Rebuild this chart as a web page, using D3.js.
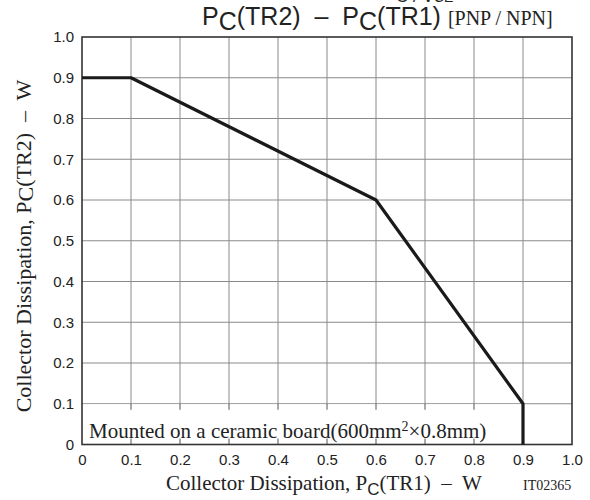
<!DOCTYPE html>
<html>
<head>
<meta charset="utf-8">
<script src="https://cdn.jsdelivr.net/npm/d3@7"></script>
<style>
  body { margin: 0; background: #fff; }
  text { white-space: pre; }
  .tick text { font-family: "Liberation Sans", Arial, sans-serif; font-size: 15px; fill: #222; }
  .serif { font-family: "Liberation Serif", "Times New Roman", serif; fill: #222; }
  .sans { font-family: "Liberation Sans", Arial, sans-serif; fill: #222; }
</style>
</head>
<body>
<svg id="chart" width="590" height="500"></svg>
<script>
// curve: Pc(TR1) vs Pc(TR2)
var pcTR1 = [0, 0.1, 0.6, 0.9, 0.9];
var pcTR2 = [0.9, 0.9, 0.6, 0.1, 0];
var xTicks = [0, 0.1, 0.2, 0.3, 0.4, 0.5, 0.6, 0.7, 0.8, 0.9, 1.0];
var yTicks = [0, 0.1, 0.2, 0.3, 0.4, 0.5, 0.6, 0.7, 0.8, 0.9, 1.0];

var margins = { top: 37, right: 18, bottom: 55.5, left: 82 };
var width = 590, height = 500;
var chartWidth = width - margins.left - margins.right;
var chartHeight = height - margins.top - margins.bottom;

var svg = d3.select("#chart");
var chart = svg.append("g")
  .attr("transform", `translate(${margins.left},${margins.top})`);

var xScale = d3.scaleLinear().domain([0, 1]).range([0, chartWidth]);
var yScale = d3.scaleLinear().domain([0, 1]).range([chartHeight, 0]);

var fmt = d => d === 0 ? "0" : d3.format(".1f")(d);

// grid
chart.append("g")
  .selectAll("line")
  .data(xTicks.slice(1, -1))
  .enter().append("line")
  .attr("x1", d => xScale(d)).attr("x2", d => xScale(d))
  .attr("y1", 0).attr("y2", chartHeight)
  .attr("stroke", "#8a8a8a").attr("stroke-width", 1);

chart.append("g")
  .selectAll("line")
  .data(yTicks.slice(1, -1))
  .enter().append("line")
  .attr("x1", 0).attr("x2", chartWidth)
  .attr("y1", d => yScale(d)).attr("y2", d => yScale(d))
  .attr("stroke", "#8a8a8a").attr("stroke-width", 1);

// white box behind the note, with short ticks left on it
chart.append("rect")
  .attr("x", 1)
  .attr("y", yScale(0.1) + 0.5)
  .attr("width", xScale(0.9) - 1)
  .attr("height", yScale(0) - yScale(0.1) - 1)
  .attr("fill", "#fff");

var tickLen = 6;
chart.append("g")
  .selectAll("line")
  .data(xTicks.slice(1, -2))
  .enter().append("line")
  .attr("x1", d => xScale(d)).attr("x2", d => xScale(d))
  .attr("y1", yScale(0.1)).attr("y2", yScale(0.1) + tickLen)
  .attr("stroke", "#555");
chart.append("g")
  .selectAll("line")
  .data(xTicks.slice(1, -2))
  .enter().append("line")
  .attr("x1", d => xScale(d)).attr("x2", d => xScale(d))
  .attr("y1", yScale(0)).attr("y2", yScale(0) - tickLen)
  .attr("stroke", "#555");

// axes (labels only)
var xAxis = d3.axisBottom(xScale).tickValues(xTicks).tickFormat(fmt).tickSize(0).tickPadding(10);
var yAxis = d3.axisLeft(yScale).tickValues(yTicks).tickFormat(fmt).tickSize(0).tickPadding(8);

chart.append("g")
  .attr("class", "x axis")
  .attr("transform", `translate(0,${chartHeight})`)
  .call(xAxis)
  .call(g => g.select(".domain").remove());

chart.append("g")
  .attr("class", "y axis")
  .call(yAxis)
  .call(g => g.select(".domain").remove());

// border
chart.append("rect")
  .attr("x", 0).attr("y", 0)
  .attr("width", chartWidth).attr("height", chartHeight)
  .attr("fill", "none")
  .attr("stroke", "#333").attr("stroke-width", 1.6);

// note
var note = chart.append("text")
  .attr("class", "serif")
  .attr("x", 7)
  .attr("y", chartHeight - 6.5)
  .style("font-size", "21px");
note.append("tspan").text("Mounted on a ceramic board(600mm");
note.append("tspan").attr("dy", -7).style("font-size", "14px").text("2");
note.append("tspan").attr("dy", 7).text("\u00d70.8mm)");

// curve
var line = d3.line()
  .x(d => xScale(d[0]))
  .y(d => yScale(d[1]));

chart.append("path")
  .datum(pcTR1.map((v, i) => [v, pcTR2[i]]))
  .attr("d", line)
  .attr("fill", "none")
  .attr("stroke", "#1a1a1a")
  .attr("stroke-width", 3.2)
  .attr("stroke-linejoin", "round");

// title
var title = svg.append("text")
  .attr("x", 202)
  .attr("y", 25)
  .attr("class", "sans")
  .style("font-size", "25px");
title.append("tspan").text("P");
title.append("tspan").attr("dy", 5).text("C");
title.append("tspan").attr("dy", -5).text("(TR2)  \u2013  P");
title.append("tspan").attr("dy", 5).text("C");
title.append("tspan").attr("dy", -5).text("(TR1) ");
title.append("tspan").attr("class", "serif").style("font-size", "20px").text("[PNP / NPN]");

// clipped heading from above (cut off in the original too)
svg.append("text")
  .attr("class", "sans")
  .attr("x", 396)
  .attr("y", 2)
  .style("font-size", "17px")
  .text("C / V")
  .append("tspan").style("font-size", "14px").text("CE");

// x label
var xl = svg.append("text")
  .attr("class", "serif")
  .attr("x", 166)
  .attr("y", 490)
  .style("font-size", "21px");
xl.append("tspan").text("Collector Dissipation, P");
xl.append("tspan").attr("class", "sans").attr("dy", 5).style("font-size", "17px").text("C");
xl.append("tspan").attr("dy", -5).text("(TR1)  \u2013  W");

svg.append("text")
  .attr("class", "serif")
  .attr("x", 523)
  .attr("y", 490)
  .style("font-size", "14px")
  .text("IT02365");

// y label
var yl = svg.append("text")
  .attr("class", "serif")
  .attr("transform", "translate(31,246) rotate(-90)")
  .attr("text-anchor", "middle")
  .style("font-size", "22px");
yl.append("tspan").text("Collector Dissipation, P");
yl.append("tspan").attr("dy", 2).text("C");
yl.append("tspan").attr("dy", -2).text("(TR2)  \u2013  W");
</script>
</body>
</html>
